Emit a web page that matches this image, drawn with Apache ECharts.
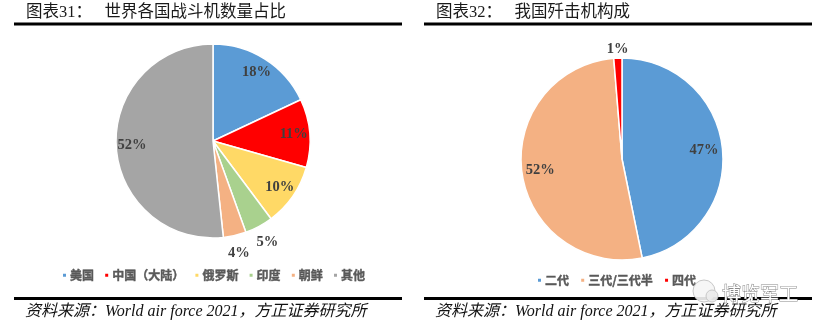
<!DOCTYPE html>
<html>
<head>
<meta charset="utf-8">
<script src="https://cdn.jsdelivr.net/npm/echarts@6/dist/echarts.min.js"></script>
<style>
html,body{margin:0;padding:0;background:#fff;}
#chart{width:827px;height:331px;}
</style>
</head>
<body>
<div id="chart"></div>
<script>
// ---- data ----
const leftTitle = '图表31：   世界各国战斗机数量占比';
const rightTitle = '图表32：   我国歼击机构成';
const sourceText = '资料来源：World air force 2021，方正证券研究所';
const leftNames = ['美国', '中国（大陆）', '俄罗斯', '印度', '朝鲜', '其他'];
const leftValues = [18, 11.4, 10.4, 4.7, 3.8, 51.7];
const rightNames = ['二代', '三代/三代半', '四代'];
const rightValues = [46.8, 51.9, 1.3];
const leftOuterLabels = ['印度', '朝鲜'];
const rightOuterLabels = ['四代'];
const watermark = '博览军工';

// ---- styles ----
const leftColors = ['#5B9BD5', '#FF0000', '#FFD966', '#A9D18E', '#F4B183', '#A5A5A5'];
const rightColors = ['#5B9BD5', '#F4B183', '#FF0000'];
const labelStyle = {
  color: '#404040', fontSize: 14.5, fontWeight: 'bold',
  fontFamily: "'Liberation Serif', 'Times New Roman', serif"
};
const fmt = p => Math.round(p.percent) + '%';

function mainSeries(center, radius, names, values, colors) {
  return {
    type: 'pie', center: center, radius: radius, silent: true,
    label: { show: false }, labelLine: { show: false },
    itemStyle: { borderColor: '#fff', borderWidth: 1.5 },
    emphasis: { disabled: true },
    data: names.map((n, i) => ({ name: n, value: values[i], itemStyle: { color: colors[i] } }))
  };
}
function labelSeries(center, radius, names, values, showFn) {
  return {
    type: 'pie', center: center, radius: radius, silent: true,
    legendHoverLink: false,
    emphasis: { disabled: true },
    labelLine: { show: false },
    itemStyle: { color: 'rgba(0,0,0,0)', borderWidth: 0 },
    data: names.map((n, i) => ({
      name: n, value: values[i],
      label: Object.assign({ show: showFn(n), position: 'inside', formatter: fmt }, labelStyle)
    }))
  };
}

const chart = echarts.init(document.getElementById('chart'), null, { renderer: 'canvas' });
const lc = [213, 141], rc = [622, 159];
const serifCJK = "'Liberation Serif', 'Noto Sans CJK SC', serif";

function hline(x, y, w) {
  return { type: 'rect', shape: { x: x, y: y, width: w, height: 3 }, style: { fill: '#000' }, silent: true };
}
function text(t, x, y, font, extra) {
  return { type: 'text', x: x, y: y, silent: true,
    style: Object.assign({ text: t, font: font, fill: '#000', verticalAlign: 'middle', align: 'left' }, extra || {}) };
}
const legendText = {
  fontSize: 12, fontWeight: 'bold', color: '#595959',
  fontFamily: "'Noto Sans CJK SC', sans-serif", padding: [0, 0, 0, -2],
  textBorderColor: '#595959', textBorderWidth: 0.4
};

chart.setOption({
  animation: false,
  backgroundColor: '#fff',
  legend: [
    {
      data: leftNames, left: 61, top: 269, orient: 'horizontal', padding: 0,
      icon: 'rect', itemWidth: 5, itemHeight: 5, itemGap: 9, selectedMode: false,
      textStyle: legendText
    },
    {
      data: rightNames, left: 536, top: 274, orient: 'horizontal', padding: 0,
      icon: 'rect', itemWidth: 5, itemHeight: 5, itemGap: 10, selectedMode: false,
      textStyle: legendText
    }
  ],
  series: [
    mainSeries(lc, 97, leftNames, leftValues, leftColors),
    mainSeries(rc, 101, rightNames, rightValues, rightColors),
    labelSeries(lc, [59, 97], leftNames, leftValues, n => leftOuterLabels.indexOf(n) < 0),
    labelSeries(lc, [97, 127], leftNames, leftValues, n => leftOuterLabels.indexOf(n) >= 0),
    labelSeries(rc, [58, 101], rightNames, rightValues, n => rightOuterLabels.indexOf(n) < 0),
    labelSeries(rc, [101, 113], rightNames, rightValues, n => rightOuterLabels.indexOf(n) >= 0)
  ],
  graphic: [
    text(leftTitle, 26, 13, '16.5px ' + serifCJK, { fill: '#1a1a1a' }),
    text(rightTitle, 436, 13, '16.5px ' + serifCJK, { fill: '#1a1a1a' }),
    hline(14, 22.5, 388),
    hline(424, 22.5, 388),
    hline(14, 297, 388),
    hline(424, 297, 388),
    text(sourceText, 25, 312, 'italic 16px ' + serifCJK, { fill: '#111' }),
    text(sourceText, 435, 312, 'italic 16px ' + serifCJK, { fill: '#111' }),
    { type: 'circle', shape: { cx: 704, cy: 291, r: 11 }, z: 100, silent: true,
      style: { fill: 'rgba(245,245,245,0.9)', stroke: '#c8c8c8', lineWidth: 1 } },
    { type: 'circle', shape: { cx: 712, cy: 296, r: 6 }, z: 101, silent: true,
      style: { fill: 'rgba(235,235,235,0.95)', stroke: '#c8c8c8', lineWidth: 1 } },
    text(watermark, 722, 294, '19px ' + "'Noto Sans CJK SC', sans-serif",
      { fill: '#ffffff', stroke: '#8a8a8a', lineWidth: 1, z: 100 })
  ]
});
</script>
</body>
</html>
